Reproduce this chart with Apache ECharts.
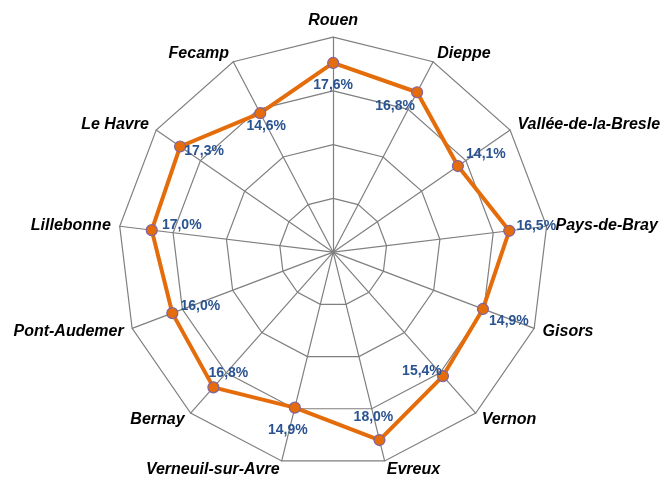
<!DOCTYPE html>
<html>
<head>
<meta charset="utf-8">
<script src="https://cdn.jsdelivr.net/npm/echarts@6/dist/echarts.min.js"></script>
<style>
  html, body { margin: 0; padding: 0; background: #fff; }
  #main { width: 669px; height: 484px; }
</style>
</head>
<body>
<div id="main"></div>
<script>
// sites, clockwise from the top (as read on the picture)
var sites = ["Rouen", "Dieppe", "Vallée-de-la-Bresle", "Pays-de-Bray", "Gisors", "Vernon",
  "Evreux", "Verneuil-sur-Avre", "Bernay", "Pont-Audemer", "Lillebonne", "Le Havre", "Fecamp"];
var rates = [17.6, 16.8, 14.1, 16.5, 14.9, 15.4, 18.0, 14.9, 16.8, 16.0, 17.0, 17.3, 14.6];
var axisMax = 20;

// where each value label sits, relative to its point
var labelOffsets = [[0, 22], [-22, 14], [28, -12], [27, -5], [26, 12], [-21, -5],
  [-6, -23], [-7, 22], [15, -14], [28, -7], [30, -5], [24, 5], [6, 13]];

// echarts lays radar axes out counter-clockwise, so keep the first and reverse the rest
function ccw(arr) {
  return [arr[0]].concat(arr.slice(1).reverse());
}

var sitesCcw = ccw(sites);
var ratesCcw = ccw(rates);
var offsetsCcw = ccw(labelOffsets);

var chart = echarts.init(document.getElementById("main"));

// one invisible item per point, just to carry its own label position
var labelItems = ratesCcw.map(function (v, i) {
  var vals = ratesCcw.map(function (x, j) { return j === i ? x : 0; });
  return {
    value: vals,
    label: { show: true, position: "inside", offset: offsetsCcw[i] }
  };
});

var option = {
  animation: false,
  radar: {
    center: ["49.8%", "52.1%"],
    radius: 215,
    shape: "polygon",
    splitNumber: 4,
    nameGap: 9,
    axisName: {
      color: "#000",
      fontFamily: "Liberation Sans",
      fontSize: 16,
      fontWeight: "bold",
      fontStyle: "italic"
    },
    indicator: sitesCcw.map(function (s) {
      return { name: s, min: 0, max: axisMax };
    }),
    axisLine: { lineStyle: { color: "#7f7f7f", width: 1.2 } },
    splitLine: { lineStyle: { color: "#7f7f7f", width: 1.2 } },
    splitArea: { show: false }
  },
  series: [
    {
      type: "radar",
      silent: true,
      symbol: "circle",
      symbolSize: 11,
      lineStyle: { color: "#E46C0A", width: 4 },
      itemStyle: { color: "#E46C0A", borderColor: "#8064A2", borderWidth: 1.2 },
      data: [{ value: ratesCcw }]
    },
    {
      type: "radar",
      silent: true,
      z: 5,
      symbol: "circle",
      symbolSize: 1,
      lineStyle: { opacity: 0 },
      itemStyle: { color: "transparent", borderWidth: 0 },
      label: {
        color: "#2A5391",
        fontFamily: "Liberation Sans",
        fontSize: 14,
        fontWeight: "bold",
        formatter: function (p) {
          var v = Array.isArray(p.value) ? null : p.value;
          if (!v) return "";
          return v.toFixed(1).replace(".", ",") + "%";
        }
      },
      data: labelItems
    }
  ]
};

chart.setOption(option);
</script>
</body>
</html>
